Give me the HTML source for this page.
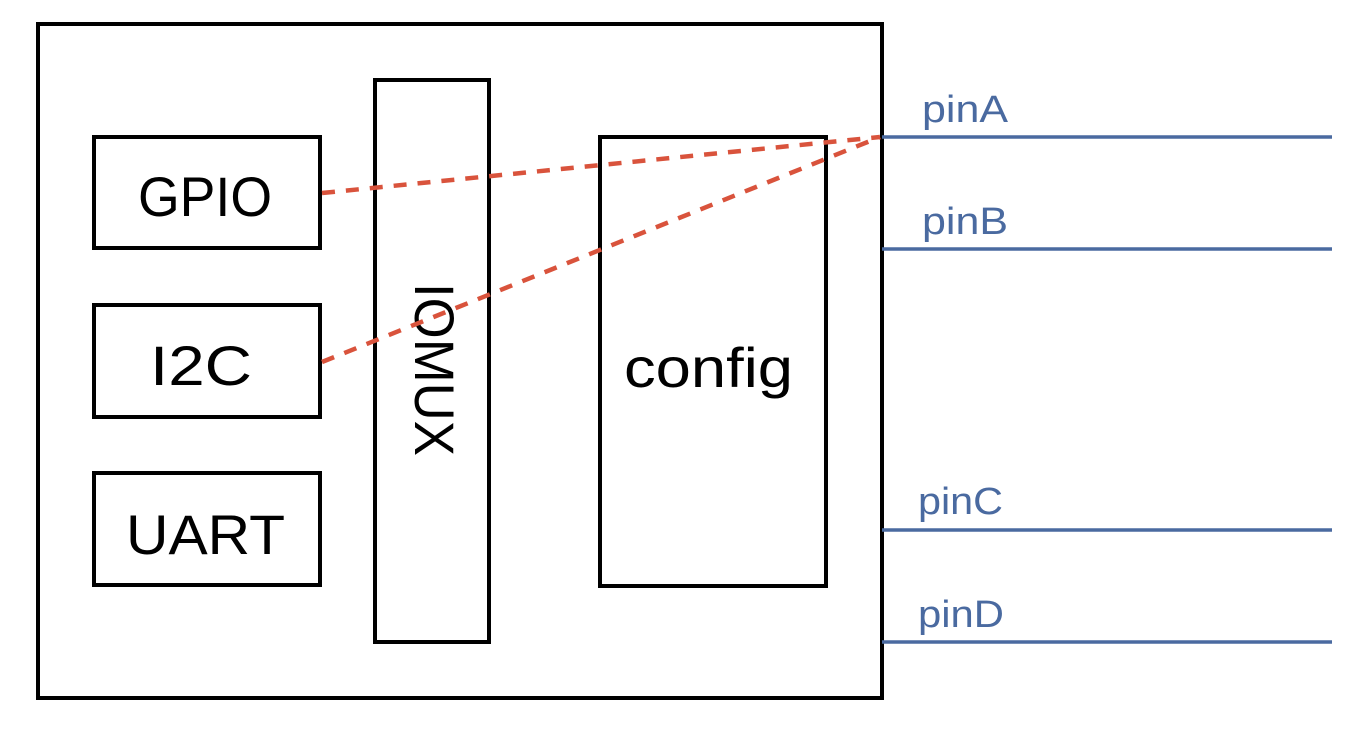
<!DOCTYPE html>
<html><head><style>html,body{margin:0;padding:0;background:#fff}</style></head>
<body>
<svg width="1356" height="737" xmlns="http://www.w3.org/2000/svg" font-family="Liberation Sans, Arial, sans-serif">
<rect x="0" y="0" width="1356" height="737" fill="#fff"/>
<rect x="38" y="24" width="844" height="674" fill="none" stroke="#000" stroke-width="4"/>
<g fill="none" stroke="#000" stroke-width="4">
<rect x="94" y="137" width="226" height="111"/>
<rect x="94" y="305" width="226" height="112"/>
<rect x="94" y="473" width="226" height="112"/>
<rect x="375" y="80" width="114" height="562"/>
<rect x="600" y="137" width="226" height="449"/>
</g>
<g font-size="56" fill="#000">
<text x="138" y="216" textLength="134" lengthAdjust="spacingAndGlyphs">GPIO</text>
<text x="150" y="385" textLength="102" lengthAdjust="spacingAndGlyphs">I2C</text>
<text x="126" y="554" textLength="159" lengthAdjust="spacingAndGlyphs">UART</text>
<text x="624" y="387" textLength="169" lengthAdjust="spacingAndGlyphs">config</text>
<text transform="translate(415,283) rotate(90)" textLength="173" lengthAdjust="spacingAndGlyphs">IOMUX</text>
</g>
<g stroke="#4a6aa0" stroke-width="3.5">
<line x1="882" y1="137" x2="1332" y2="137"/>
<line x1="882" y1="249" x2="1332" y2="249"/>
<line x1="882" y1="530" x2="1332" y2="530"/>
<line x1="882" y1="642" x2="1332" y2="642"/>
</g>
<g font-size="38" fill="#4a6aa0">
<text x="922" y="122" textLength="86" lengthAdjust="spacingAndGlyphs">pinA</text>
<text x="922" y="234" textLength="86" lengthAdjust="spacingAndGlyphs">pinB</text>
<text x="918" y="514" textLength="85" lengthAdjust="spacingAndGlyphs">pinC</text>
<text x="918" y="627" textLength="86" lengthAdjust="spacingAndGlyphs">pinD</text>
</g>
<g stroke="#d9533c" stroke-width="4.5" stroke-dasharray="13,11" fill="none">
<line x1="322" y1="193" x2="880" y2="137"/>
<line x1="322" y1="362" x2="880" y2="137"/>
</g>
</svg>
</body></html>
